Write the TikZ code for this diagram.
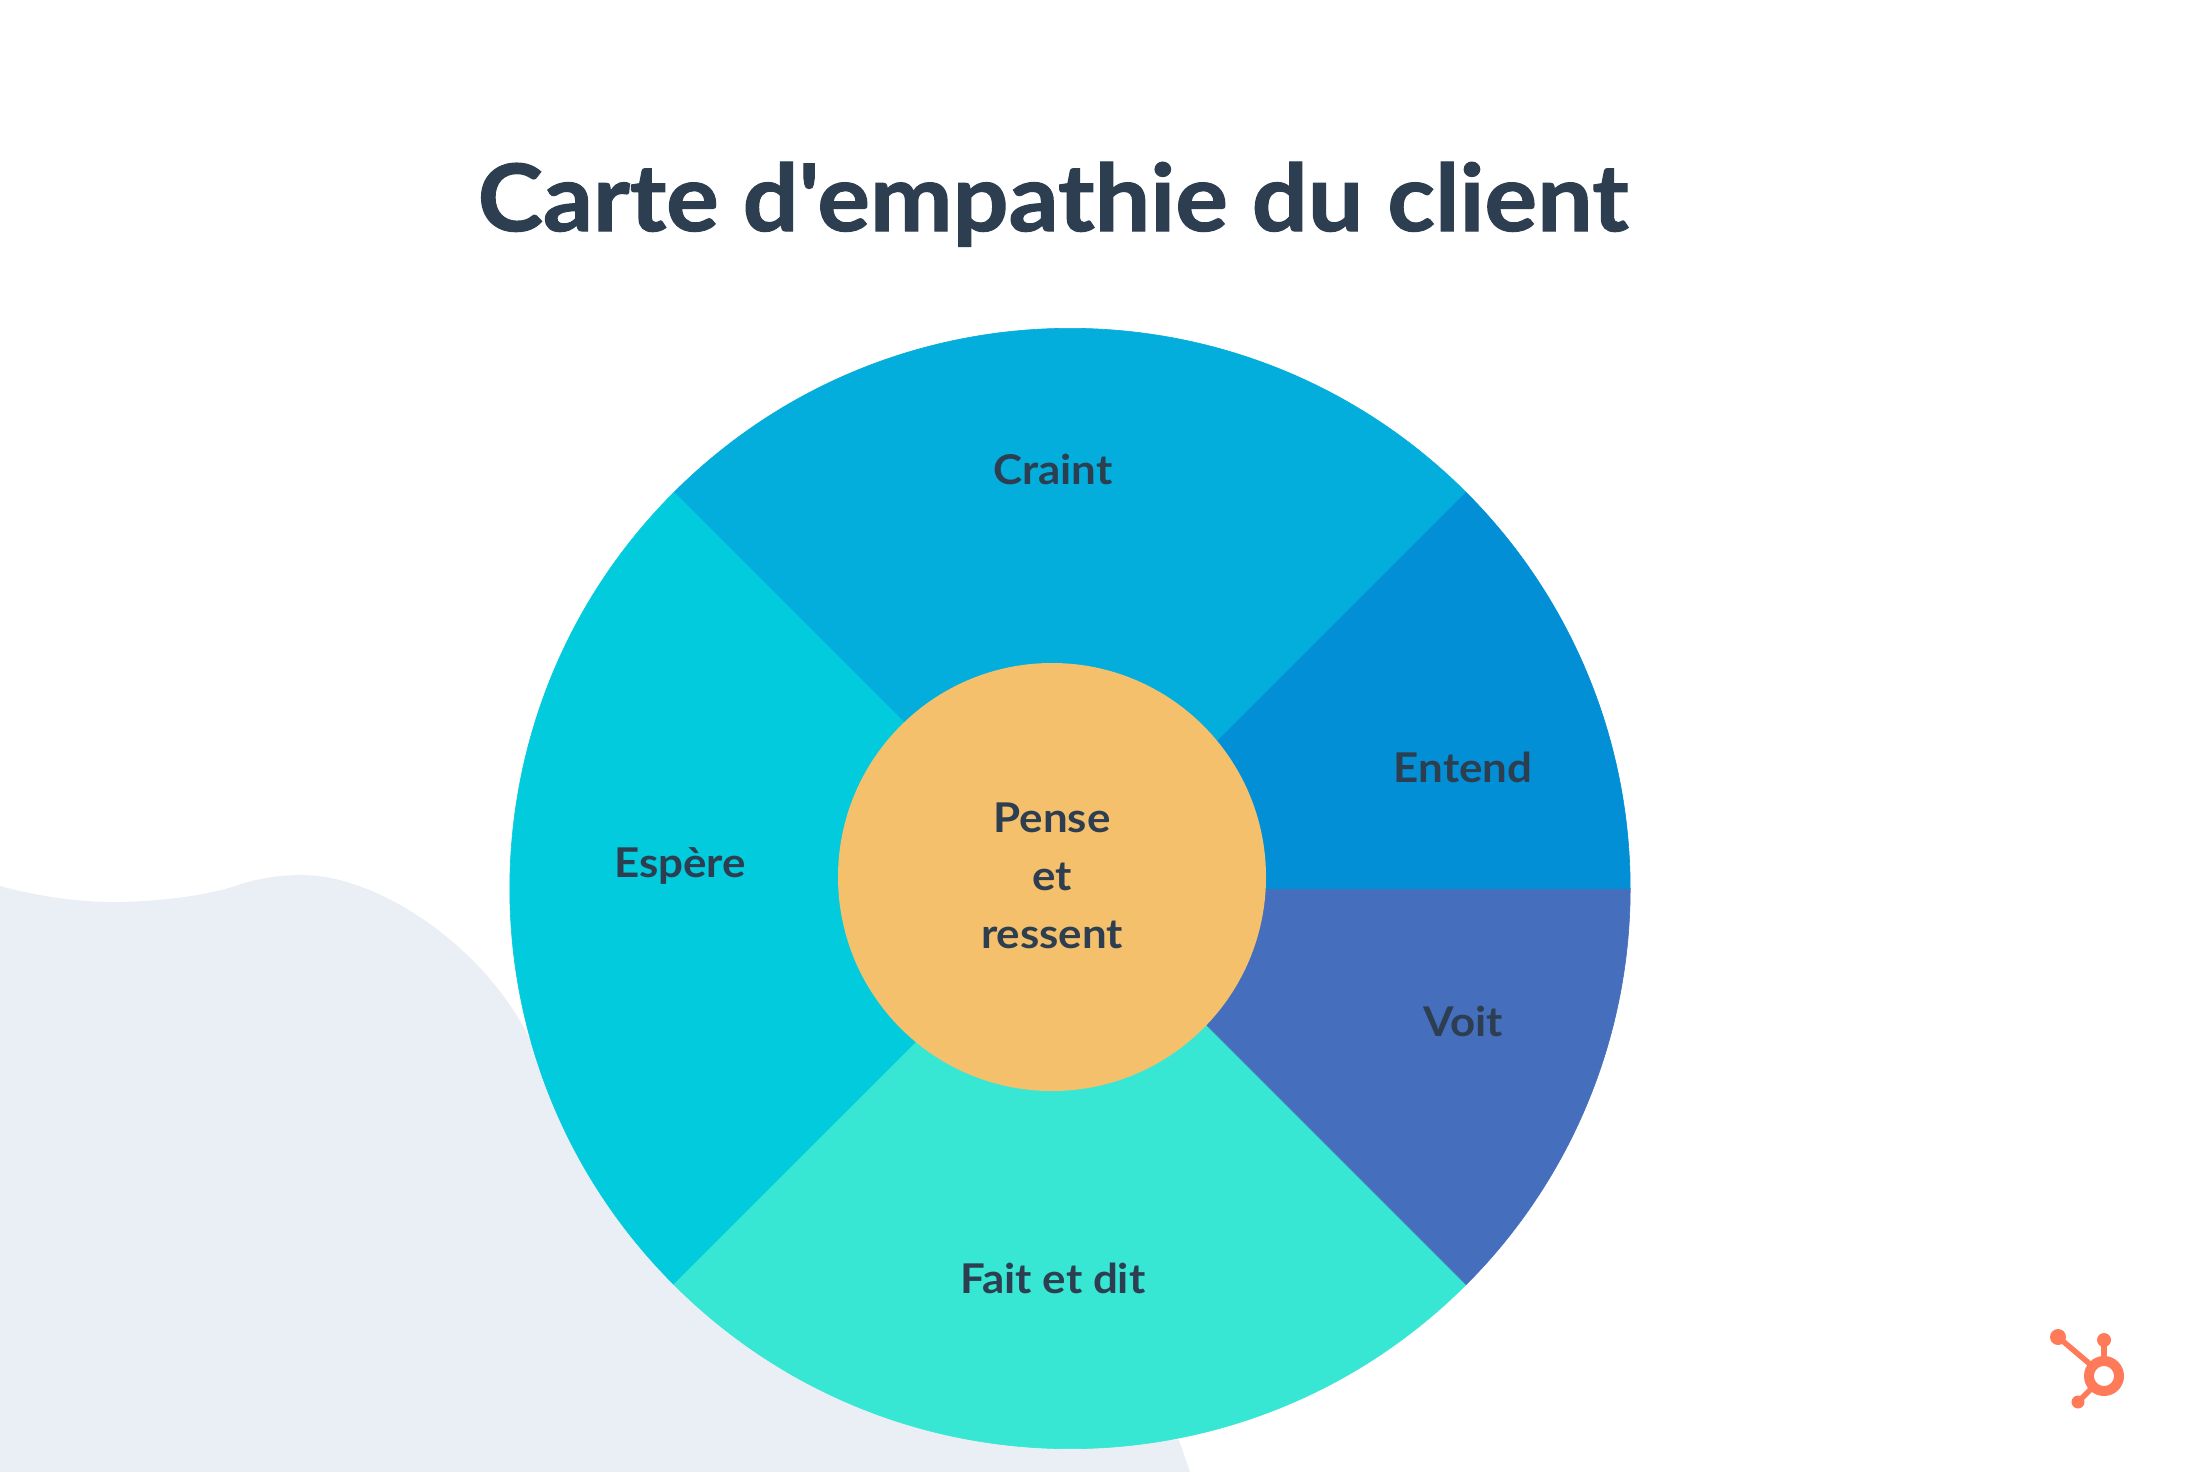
\documentclass[tikz,border=0pt]{standalone}
\usepackage{fontspec}
\setmainfont{Lato}[FakeStretch=1.07]
\newfontfamily\titlefont{Lato}[FakeStretch=1.06,BoldFeatures={FakeBold=1.2}]
\definecolor{ink}{HTML}{2D3E50}
\definecolor{blob}{HTML}{EAEFF6}
\definecolor{craint}{HTML}{03AEDD}
\definecolor{entend}{HTML}{028FD6}
\definecolor{voit}{HTML}{456EBD}
\definecolor{fait}{HTML}{38E6D4}
\definecolor{espere}{HTML}{02CBDD}
\definecolor{centre}{HTML}{F5C06B}
\definecolor{logo}{HTML}{FF7A59}
\tikzset{
  lab/.style={anchor=base,inner sep=0pt,text=ink,font=\fontsize{41}{46}\selectfont\bfseries},
  ttl/.style={anchor=base,inner sep=0pt,text=ink,font=\titlefont\fontsize{93}{100}\selectfont\bfseries},
  wedge/.style={fill=#1,draw=#1,line width=0.6pt,line join=round}
}
\begin{document}
\begin{tikzpicture}[x=1pt,y=-1pt]
\useasboundingbox (0,0) rectangle (2208,1472);
\fill[white] (0,0) rectangle (2208,1472);
% background blob
\fill[blob] (0,886) .. controls (40,897) and (85,903) .. (122,902)
  .. controls (160,901) and (205,896) .. (235,886)
  .. controls (258,878) and (280,875) .. (302,875)
  .. controls (380,875) and (490,950) .. (533,1046)
  .. controls (700,1300) and (1000,1440) .. (1179,1440)
  -- (1190,1472) -- (0,1472) -- cycle;
% wedges
\def\cx{1070}\def\cy{888.5}\def\R{560.2}
\path[wedge=craint] (\cx,\cy) -- +(-396.1,-396.1) arc[start angle=225,end angle=315,radius=\R] -- cycle;
\path[wedge=espere] (\cx,\cy) -- +(-396.1,396.1) arc[start angle=135,end angle=225,radius=\R] -- cycle;
\path[wedge=fait] (\cx,\cy) -- +(396.1,396.1) arc[start angle=45,end angle=135,radius=\R] -- cycle;
\path[wedge=voit] (\cx,\cy) -- +(\R,0) arc[start angle=0,end angle=45,radius=\R] -- cycle;
\path[wedge=entend] (\cx,\cy) -- +(396.1,-396.1) arc[start angle=315,end angle=360,radius=\R] -- cycle;
\fill[centre] (1052,877) circle[radius=214];
% labels
\node[ttl] (title) at (1053,231) {Carte d\symbol{39}empathie du client};
\node[lab] (craintL) at (1053,484) {Craint};
\node[lab] (entendL) at (1463,782) {Entend};
\node[lab] (voitL) at (1463,1036) {Voit};
\node[lab] (espereL) at (680,877) {Espère};
\node[lab] (faitL) at (1053,1293) {Fait et dit};
\node[lab] (pense) at (1052,832) {Pense};
\node[lab] (et) at (1052,890) {et};
\node[lab] (ressent) at (1052,948) {ressent};
% logo
\draw[logo,line width=5.5pt] (2058,1337) -- (2104,1376);
\draw[logo,line width=6.5pt] (2104,1340) -- (2104,1376);
\draw[logo,line width=5.5pt] (2078,1402) -- (2104,1376);
\fill[logo] (2058,1337) circle[radius=8] (2104,1340) circle[radius=7] (2078,1402) circle[radius=6.5];
\draw[logo,line width=10pt,fill=white] (2104,1376) circle[radius=15];
\end{tikzpicture}
\end{document}
